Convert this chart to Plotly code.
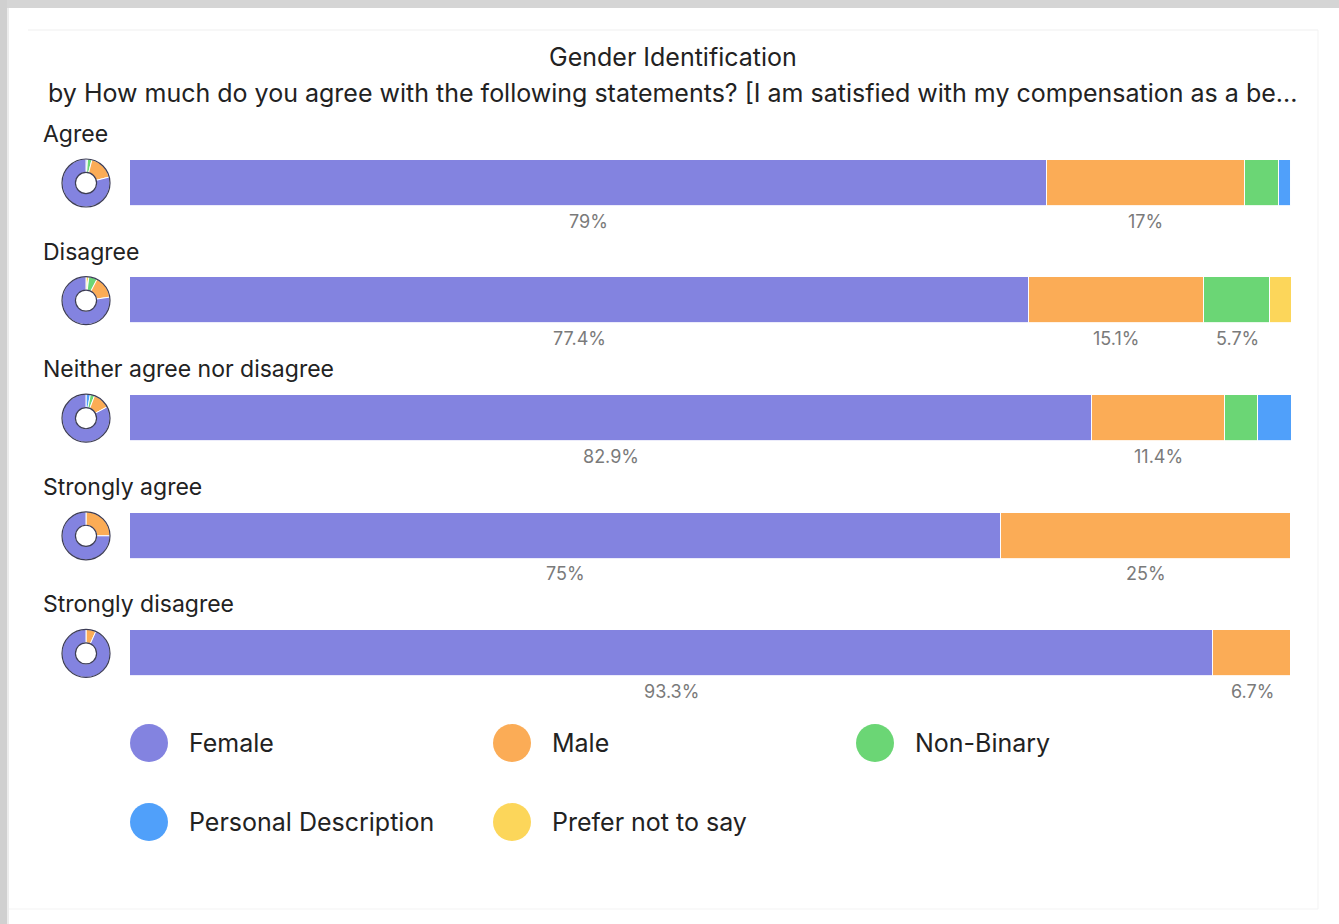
import plotly.graph_objects as go

W, H = 1339, 924

categories = ["Agree", "Disagree", "Neither agree nor disagree", "Strongly agree", "Strongly disagree"]
genders = ["Female", "Male", "Non-Binary", "Personal Description", "Prefer not to say"]
female = [79.0, 77.4, 82.9, 75.0, 93.3]
male = [17.0, 15.1, 11.4, 25.0, 6.7]
non_binary = [3.0, 5.7, 2.9, 0.0, 0.0]
personal = [1.0, 0.0, 2.9, 0.0, 0.0]
prefer_not = [0.0, 1.9, 0.0, 0.0, 0.0]
series = [female, male, non_binary, personal, prefer_not]
colors = ["#8383E0", "#FBAC56", "#6BD675", "#50A0FA", "#FCD65A"]

title = "Gender Identification"
subtitle = "by How much do you agree with the following statements? [I am satisfied with my compensation as a be..."

FONT = "Inter, 'Open Sans', Arial, sans-serif"

def px(x):
    return x / W

def py(y):
    return 1 - y / H

# layout geometry (pixels)
bar_left, bar_right = 130, 1291
row0, row_step = 183, 117.6
n = len(categories)
dom_top = row0 - row_step / 2
dom_bot = row0 + row_step * (n - 0.5)

fig = go.Figure()

for g, vals, c in zip(genders, series, colors):
    fig.add_trace(go.Bar(
        y=list(range(n)), x=vals, orientation="h", name=g,
        marker=dict(color=c, line=dict(color="rgba(255,255,255,0.85)", width=1)),
        width=0.39, showlegend=False,
        hovertemplate="%{x}%<extra>" + g + "</extra>",
    ))

# percentage labels under segments
annotations = []
for i in range(n):
    cum = 0.0
    for vals in series:
        v = vals[i]
        if v >= 5:
            txt = (f"{v:.1f}".rstrip("0").rstrip(".")) + "%"
            annotations.append(dict(
                x=cum + v / 2, y=i, xref="x", yref="y", text=txt, showarrow=False,
                yshift=-38, font=dict(size=18, color="#7a7a7a", family=FONT),
            ))
        cum += v

# donuts (clockwise from 12 o'clock with reversed order == counterclockwise layout)
shapes = []
R = 24
for i in range(n):
    cy = row0 + row_step * i
    fig.add_trace(go.Pie(
        values=[s[i] for s in series][::-1], labels=genders[::-1],
        marker=dict(colors=colors[::-1], line=dict(color="white", width=1)),
        hole=0.44, sort=False, direction="clockwise", rotation=0,
        textinfo="none", showlegend=False,
        domain=dict(x=[px(86 - R), px(86 + R)], y=[py(cy + R), py(cy - R)]),
    ))
    for r in (R, R * 0.44):
        shapes.append(dict(
            type="circle", xref="paper", yref="paper", xsizemode="pixel", ysizemode="pixel",
            xanchor=px(86), yanchor=py(cy), x0=-r, x1=r, y0=-r, y1=r,
            line=dict(color="#3c3c55", width=1.2), layer="above",
        ))
    annotations.append(dict(
        x=px(41), y=py(cy - 49), xref="paper", yref="paper", xanchor="left", yanchor="middle",
        text=categories[i], showarrow=False, font=dict(size=23, color="#222222", family=FONT),
    ))

# legend (manual, large circles)
leg_pos = [(149, 743), (512, 743), (875, 743), (149, 822), (512, 822)]
for (lx, ly), g, c in zip(leg_pos, genders, colors):
    shapes.append(dict(
        type="circle", xref="paper", yref="paper", xsizemode="pixel", ysizemode="pixel",
        xanchor=px(lx), yanchor=py(ly), x0=-19, x1=19, y0=-19, y1=19,
        fillcolor=c, line=dict(width=0),
    ))
    annotations.append(dict(
        x=px(lx + 38), y=py(ly), xref="paper", yref="paper", xanchor="left", yanchor="middle",
        text=g, showarrow=False, font=dict(size=25, color="#222222", family=FONT),
    ))

# titles
annotations.append(dict(x=px(673), y=py(57), xref="paper", yref="paper", text=title,
                        showarrow=False, xanchor="center", yanchor="middle",
                        font=dict(size=25, color="#222222", family=FONT)))
annotations.append(dict(x=px(673), y=py(93), xref="paper", yref="paper", text=subtitle,
                        showarrow=False, xanchor="center", yanchor="middle",
                        font=dict(size=25, color="#222222", family=FONT)))

# frame decorations
shapes += [
    dict(type="rect", xref="paper", yref="paper", x0=0, x1=1, y0=py(8), y1=1,
         fillcolor="#d5d5d5", line=dict(width=0), layer="below"),
    dict(type="rect", xref="paper", yref="paper", x0=0, x1=px(7), y0=0, y1=1,
         fillcolor="#d0d0d0", line=dict(width=0), layer="below"),
    dict(type="rect", xref="paper", yref="paper", x0=px(7), x1=px(9), y0=0, y1=py(8),
         fillcolor="#ececec", line=dict(width=0), layer="below"),
    dict(type="line", xref="paper", yref="paper", x0=px(28), x1=px(1318), y0=py(30), y1=py(30),
         line=dict(color="#efefef", width=1), layer="below"),
    dict(type="line", xref="paper", yref="paper", x0=px(1318), x1=px(1318), y0=py(30), y1=py(909),
         line=dict(color="#f3f3f3", width=1), layer="below"),
    dict(type="line", xref="paper", yref="paper", x0=px(9), x1=px(1318), y0=py(909), y1=py(909),
         line=dict(color="#f3f3f3", width=1), layer="below"),
]

fig.update_layout(
    width=W, height=H, margin=dict(l=0, r=0, t=0, b=0),
    paper_bgcolor="white", plot_bgcolor="white",
    barmode="stack", bargap=0,
    xaxis=dict(domain=[px(bar_left), px(bar_right)], range=[0, 100], visible=False, fixedrange=True),
    yaxis=dict(domain=[py(dom_bot), py(dom_top)], range=[n - 0.5, -0.5], visible=False, fixedrange=True),
    shapes=shapes, annotations=annotations, showlegend=False,
    font=dict(family=FONT),
)

fig.write_html("out.html")
